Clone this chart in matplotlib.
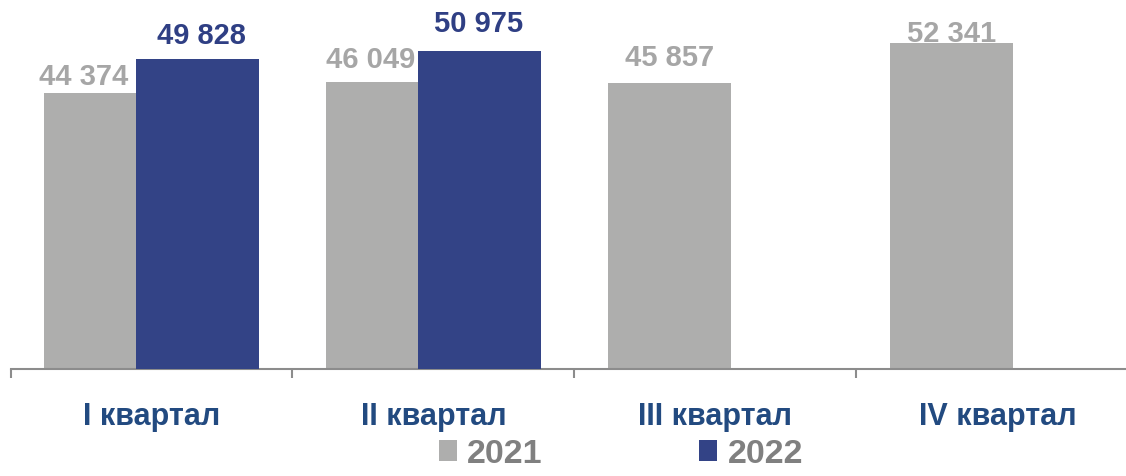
import matplotlib
matplotlib.use("Agg")
import matplotlib.pyplot as plt
from matplotlib.patches import Patch
from matplotlib.ticker import FixedLocator, NullFormatter

# ---- data ----
categories = ["I квартал", "II квартал", "III квартал", "IV квартал"]
series_names = ["2021", "2022"]
values_2021 = [44374, 46049, 45857, 52341]
values_2022 = [49828, 50975, None, None]

# ---- style ----
plt.rcParams['font.family'] = ['Liberation Sans', 'DejaVu Sans']
c_2021 = "#AEAEAD"
c_2022 = "#334386"
c_lab2021 = "#A6A6A6"
c_lab2022 = "#2F3F84"
c_cat = "#224A80"
c_leg = "#808080"
c_axis = "#8C8C8C"
bar_w = 0.436
off = 0.162
# label nudges in pixels (dx, gap between digit baseline and bar top)
nudge_2021 = [(-22, 9), (-17, 15), (0, 18), (0, 2)]
nudge_2022 = [(4, 16), (-1, 20)]

W, H = 1126, 477
fig = plt.figure(figsize=(W / 100, H / 100), dpi=100)
ax_left, ax_right = 10.5, 1138.5
ax_bottom, ax_top = 370, 0
ax = fig.add_axes([ax_left / W, (H - ax_bottom) / H,
                   (ax_right - ax_left) / W, (ax_bottom - ax_top) / H])
ax.set_xlim(-0.5, len(categories) - 0.5)
ax.set_ylim(0, 59400)

x = list(range(len(categories)))
x21 = [i - off for i in x]
x22 = [i + off for i in x if values_2022[i] is not None]
v22 = [v for v in values_2022 if v is not None]

ax.bar(x21, values_2021, width=bar_w, color=c_2021, zorder=2)
ax.bar(x22, v22, width=bar_w, color=c_2022, zorder=3)

def fmt(v):
    return f"{v:,}".replace(",", " ")

for xi, v, (dx, dy) in zip(x21, values_2021, nudge_2021):
    ax.annotate(fmt(v), (xi, v), xytext=(dx * 0.72, dy * 0.72),
                textcoords="offset points", ha="center", va="baseline",
                fontsize=21, fontweight="bold", color=c_lab2021, zorder=4)
for xi, v, (dx, dy) in zip(x22, v22, nudge_2022):
    ax.annotate(fmt(v), (xi, v), xytext=(dx * 0.72, dy * 0.72),
                textcoords="offset points", ha="center", va="baseline",
                fontsize=21, fontweight="bold", color=c_lab2022, zorder=4)

for s in ["top", "right", "left"]:
    ax.spines[s].set_visible(False)
ax.spines["bottom"].set_color(c_axis)
ax.spines["bottom"].set_linewidth(1.5)
ax.set_yticks([])

ax.set_xticks(x)
ax.set_xticklabels(categories, fontsize=22, fontweight="bold", color=c_cat)
ax.tick_params(axis="x", which="major", length=0, pad=23)
ax.xaxis.set_minor_locator(FixedLocator([i - 0.5 for i in range(len(categories) + 1)]))
ax.xaxis.set_minor_formatter(NullFormatter())
ax.tick_params(axis="x", which="minor", length=6.5, width=1.5, color=c_axis, direction="out")

handles = [Patch(facecolor=c_2021, edgecolor="none"), Patch(facecolor=c_2022, edgecolor="none")]
leg = fig.legend(handles, series_names, loc="center", bbox_to_anchor=(621 / W, 1 - 455 / H),
                 ncol=2, frameon=False, prop={"size": 24.5, "weight": "bold"},
                 handlelength=0.53, handleheight=0.6, handletextpad=0.3,
                 columnspacing=4.6, borderpad=0, borderaxespad=0)
for t in leg.get_texts():
    t.set_color(c_leg)

fig.savefig("out.png", dpi=100)
